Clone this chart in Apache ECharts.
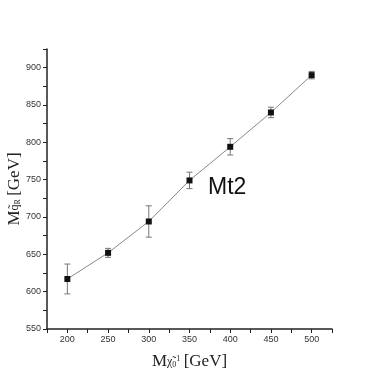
<!DOCTYPE html>
<html>
<head>
<meta charset="utf-8">
<script src="https://cdn.jsdelivr.net/npm/echarts@6/dist/echarts.min.js"></script>
<style>
  html, body { margin: 0; padding: 0; background: #fff; }
  #chart { width: 376px; height: 376px; }
</style>
</head>
<body>
<div id="chart"></div>
<script>
// neutralino mass [GeV]
const neutralinoMass = [200, 250, 300, 350, 400, 450, 500];
// reconstructed squark mass from Mt2 [GeV]
const squarkMass = [617, 652, 694, 749, 794, 840, 890];
const squarkErr = [20, 6, 21, 11, 11, 7, 5];

const pointData = neutralinoMass.map((x, i) => [x, squarkMass[i]]);
const errData = neutralinoMass.map((x, i) => [x, squarkMass[i] - squarkErr[i], squarkMass[i] + squarkErr[i]]);

const chart = echarts.init(document.getElementById("chart"));

const tickLabel = { color: "#333", fontSize: 9, fontFamily: "Liberation Sans" };
const axisLine = { lineStyle: { color: "#222", width: 1.5 } };

const option = {
  animation: false,
  grid: { left: 47, right: 44, top: 49, bottom: 47, outerBoundsMode: "none", containLabel: false },
  xAxis: {
    type: "value",
    min: 175,
    max: 525,
    interval: 25,
    name: "{m|M}{s|χ̃}{sub|0}{sup|1} {m|[GeV]}",
    nameLocation: "middle",
    nameGap: 24,
    nameMoveOverlap: false,
    nameTextStyle: {
      rich: {
        m: { fontFamily: "Liberation Serif", fontSize: 17, color: "#222" },
        s: { fontFamily: "Liberation Serif", fontSize: 12, color: "#222" },
        sub: { fontFamily: "Liberation Serif", fontSize: 8, color: "#222", padding: [6, 0, 0, 0] },
        sup: { fontFamily: "Liberation Serif", fontSize: 8, color: "#222", padding: [0, 0, 6, 0] },
      },
    },
    axisLine,
    axisTick: { inside: false, length: 4, lineStyle: { color: "#222" } },
    axisLabel: {
      ...tickLabel,
      margin: 6,
      formatter: (v) => (v % 50 === 0 ? String(v) : ""),
    },
    splitLine: { show: false },
  },
  yAxis: {
    type: "value",
    min: 550,
    max: 925,
    interval: 25,
    name: "{m|M}{s|q̃}{sub|R} {m|[GeV]}",
    nameLocation: "middle",
    nameGap: 24,
    nameMoveOverlap: false,
    nameTextStyle: {
      rich: {
        m: { fontFamily: "Liberation Serif", fontSize: 17, color: "#222" },
        s: { fontFamily: "Liberation Serif", fontSize: 12, color: "#222" },
        sub: { fontFamily: "Liberation Serif", fontSize: 8, color: "#222", padding: [6, 0, 0, 0] },
      },
    },
    axisLine,
    axisTick: { inside: false, length: 4, lineStyle: { color: "#222" } },
    axisLabel: {
      ...tickLabel,
      margin: 6,
      formatter: (v) => (v % 50 === 0 ? String(v) : ""),
    },
    splitLine: { show: false },
  },
  graphic: [
    {
      type: "text",
      left: 208,
      top: 176,
      style: { text: "Mt2", fontFamily: "Liberation Sans", fontSize: 23, fill: "#111" },
    },
  ],
  series: [
    {
      type: "custom",
      data: errData,
      z: 1,
      renderItem: (params, api) => {
        const x = api.value(0);
        const lo = api.coord([x, api.value(1)]);
        const hi = api.coord([x, api.value(2)]);
        const cap = 3;
        const style = { stroke: "#777", lineWidth: 1 };
        return {
          type: "group",
          children: [
            { type: "line", shape: { x1: lo[0], y1: lo[1], x2: hi[0], y2: hi[1] }, style },
            { type: "line", shape: { x1: lo[0] - cap, y1: lo[1], x2: lo[0] + cap, y2: lo[1] }, style },
            { type: "line", shape: { x1: hi[0] - cap, y1: hi[1], x2: hi[0] + cap, y2: hi[1] }, style },
          ],
        };
      },
    },
    {
      type: "line",
      data: pointData,
      z: 2,
      symbol: "rect",
      symbolSize: 6,
      itemStyle: { color: "#111" },
      lineStyle: { color: "#888", width: 1 },
    },
  ],
};

chart.setOption(option);
</script>
</body>
</html>
